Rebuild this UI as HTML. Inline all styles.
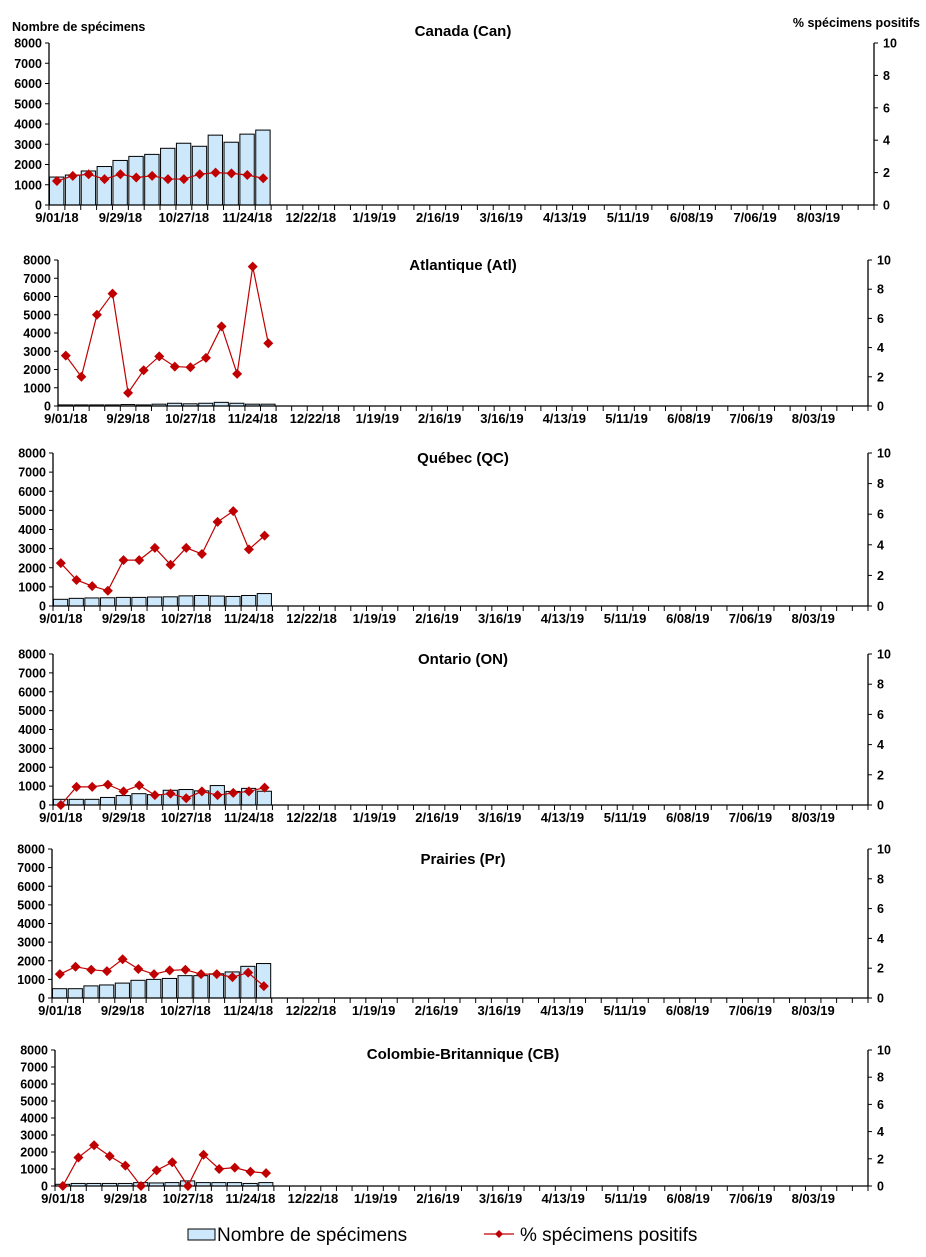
<!DOCTYPE html>
<html><head><meta charset="utf-8">
<style>
body{margin:0;background:#fff;}
svg{display:block;font-family:"Liberation Sans",Arial,sans-serif;}
</style></head>
<body>
<svg id="chart" width="926" height="1257" xmlns="http://www.w3.org/2000/svg"></svg>
<script>
const xLabels = ["9/01/18","9/29/18","10/27/18","11/24/18","12/22/18","1/19/19","2/16/19","3/16/19","4/13/19","5/11/19","6/08/19","7/06/19","8/03/19"];
const leftTicks = [0,1000,2000,3000,4000,5000,6000,7000,8000];
const rightTicks = [0,2,4,6,8,10];
const regionNames = ["Canada (Can)","Atlantique (Atl)","Québec (QC)","Ontario (ON)","Prairies (Pr)","Colombie-Britannique (CB)"];
const canCounts = [1380,1480,1680,1900,2200,2400,2500,2800,3050,2900,3450,3100,3500,3700];
const canPct = [1.48,1.8,1.9,1.6,1.9,1.7,1.8,1.6,1.6,1.9,2.0,1.95,1.85,1.65];
const atlCounts = [60,60,60,60,80,60,100,150,120,150,200,150,100,100];
const atlPct = [3.45,2.0,6.25,7.7,0.9,2.45,3.4,2.7,2.65,3.3,5.45,2.2,9.55,4.3];
const qcCounts = [350,400,420,430,450,450,470,480,530,550,520,500,550,650];
const qcPct = [2.8,1.7,1.3,1.0,3.0,3.0,3.8,2.7,3.8,3.4,5.5,6.2,3.7,4.6];
const onCounts = [300,300,300,400,500,600,550,780,820,750,1030,720,880,730];
const onPct = [0,1.2,1.2,1.35,0.9,1.3,0.65,0.75,0.45,0.9,0.65,0.8,0.9,1.15];
const prCounts = [500,500,650,700,800,950,1000,1050,1200,1200,1300,1400,1700,1850];
const prPct = [1.6,2.1,1.9,1.8,2.6,1.95,1.6,1.85,1.9,1.6,1.6,1.4,1.7,0.8];
const cbCounts = [100,150,150,150,150,200,180,200,300,200,200,200,150,200];
const cbPct = [0,2.1,3.0,2.2,1.5,0,1.15,1.75,0,2.3,1.25,1.35,1.05,0.95];

const panels = [
 {name:"canada",counts:canCounts,pct:canPct,top:43,bottom:205,left:49,right:874,titleY:36},
 {name:"atlantique",counts:atlCounts,pct:atlPct,top:260,bottom:406,left:58,right:868,titleY:270},
 {name:"quebec",counts:qcCounts,pct:qcPct,top:453,bottom:606,left:53,right:868,titleY:463},
 {name:"ontario",counts:onCounts,pct:onPct,top:654,bottom:805,left:53,right:868,titleY:664},
 {name:"prairies",counts:prCounts,pct:prPct,top:849,bottom:998,left:52,right:868,titleY:864},
 {name:"colombie-britannique",counts:cbCounts,pct:cbPct,top:1050,bottom:1186,left:55,right:868,titleY:1059}
];
const NS="http://www.w3.org/2000/svg";
const svg=document.getElementById('chart');
function mk(tag,attrs,parent,text){const e=document.createElementNS(NS,tag);for(const k in attrs)e.setAttribute(k,attrs[k]);if(text!==undefined)e.textContent=text;(parent||svg).appendChild(e);return e;}

panels.forEach((p,pi)=>{
  const g=mk('g',{});
  
  
  const W=(p.right-p.left)/52;
  const xw=i=>p.left+i*W;
  const yL=v=>p.bottom-(v/8000)*(p.bottom-p.top);
  const yR=v=>p.bottom-(v/10)*(p.bottom-p.top);
  const t=mk('text',{x:463,y:p.titleY,'text-anchor':'middle','font-size':15,'font-weight':'bold',fill:'#000'},g,regionNames[pi]);
  
  
  p.counts.forEach((c,i)=>{
    const r=mk('rect',{x:xw(i)+0.5,y:yL(c),width:W-1.5,height:p.bottom-yL(c),fill:'#cce8fa',stroke:'#000','stroke-width':1},g);
    
    
  });
  mk('line',{x1:p.left,y1:p.top,x2:p.left,y2:p.bottom,stroke:'#000','stroke-width':1.3},g);
  mk('line',{x1:p.right,y1:p.top,x2:p.right,y2:p.bottom,stroke:'#000','stroke-width':1.3},g);
  mk('line',{x1:p.left,y1:p.bottom,x2:p.right,y2:p.bottom,stroke:'#000','stroke-width':1.3},g);
  leftTicks.forEach(v=>{
    mk('line',{x1:p.left-4,y1:yL(v),x2:p.left,y2:yL(v),stroke:'#000'},g);
    const l=mk('text',{x:p.left-7,y:yL(v)+4.5,'text-anchor':'end','font-size':12.5,'font-weight':'bold'},g,v);
    
    
  });
  rightTicks.forEach(v=>{
    mk('line',{x1:p.right,y1:yR(v),x2:p.right+4,y2:yR(v),stroke:'#000'},g);
    const l=mk('text',{x:p.right+9,y:yR(v)+4.5,'font-size':12.5,'font-weight':'bold'},g,v);
    
    
  });
  for(let i=0;i<=52;i++) mk('line',{x1:xw(i),y1:p.bottom,x2:xw(i),y2:p.bottom+5,stroke:'#000'},g);
  xLabels.forEach((s,k)=>{
    const l=mk('text',{x:xw(k*4)+W/2,y:p.bottom+17,'text-anchor':'middle','font-size':13,'font-weight':'bold'},g,s);
    
    
  });
  const pts=p.pct.map((v,i)=>[xw(i)+W/2,yR(v)]);
  const pl=mk('polyline',{points:pts.map(q=>q.join(',')).join(' '),fill:'none',stroke:'#c00000','stroke-width':1.2},g);
  
  
  pts.forEach(q=>{
    const d=mk('polygon',{points:`${q[0]},${q[1]-5} ${q[0]+5},${q[1]} ${q[0]},${q[1]+5} ${q[0]-5},${q[1]}`,fill:'#c00000'},g);
    
    
  });
});
</script>
<svg style="position:absolute;left:0;top:0" width="926" height="1257" xmlns="http://www.w3.org/2000/svg">
  <text x="12" y="31" font-size="12.5" font-weight="bold">Nombre de spécimens</text>
  <text x="920" y="27" text-anchor="end" font-size="12.5" font-weight="bold">% spécimens positifs</text>
  <g>
    <rect x="188" y="1229" width="27" height="11" fill="#cce8fa" stroke="#000"/>
    <text x="217" y="1241" font-size="19">Nombre de spécimens</text>
    <line x1="484" y1="1234" x2="514" y2="1234" stroke="#c00000" stroke-width="1.2"/>
    <polygon points="499,1230 503,1234 499,1238 495,1234" fill="#c00000"/>
    <text x="520" y="1241" font-size="19">% spécimens positifs</text>
  </g>
</svg>
</body></html>
